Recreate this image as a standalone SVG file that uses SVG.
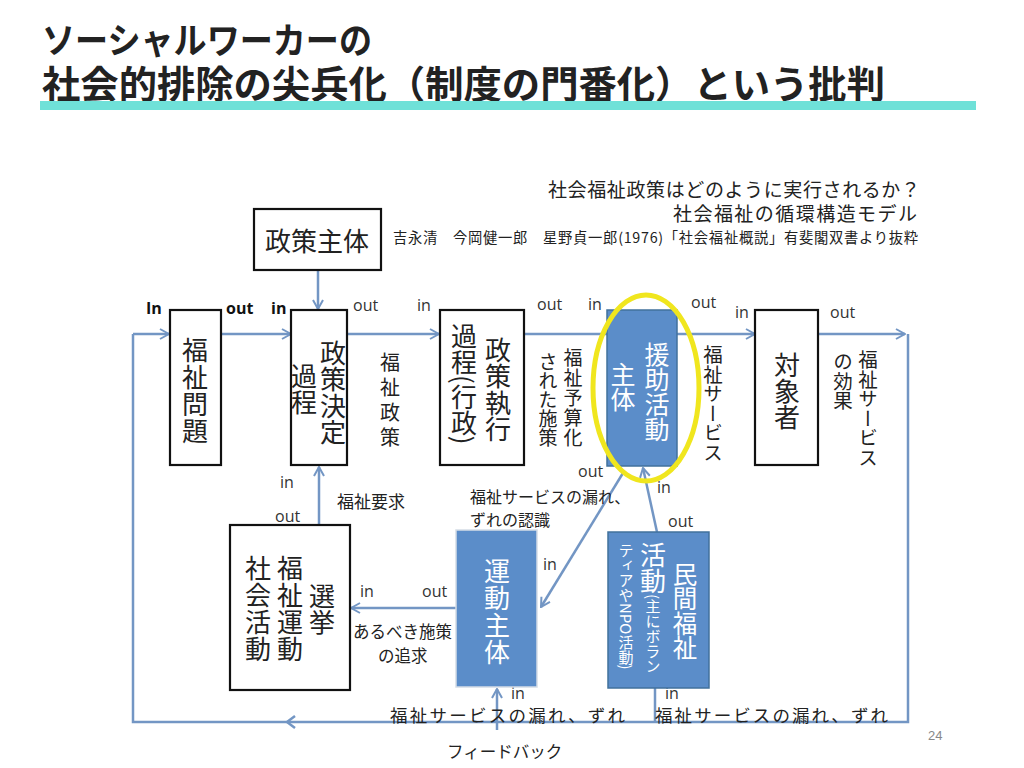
<svg xmlns="http://www.w3.org/2000/svg" width="1024" height="768" viewBox="0 0 1024 768">
<defs>
<style>
.jp{font-family:'Noto Sans CJK JP','Noto Sans CJK SC',sans-serif;fill:#222}
.v{writing-mode:vertical-rl}
.lbl{font-family:'Open Sans','Liberation Sans',sans-serif;font-size:16px;fill:#333}
.b{font-weight:bold;fill:#111}
.box{fill:#fff;stroke:#111;stroke-width:2.2}
.blue{fill:#5b8dc9;stroke:#41719c;stroke-width:1.5}
.wt{fill:#fff}
.ln{fill:none;stroke:#7396c4;stroke-width:2.5}
</style>
<marker id="ah" viewBox="0 0 12 12" refX="11" refY="6" markerWidth="12" markerHeight="12" markerUnits="userSpaceOnUse" orient="auto">
<path d="M2,1 L11,6 L2,11" fill="none" stroke="#7396c4" stroke-width="2"/>
</marker>
</defs>
<rect width="1024" height="768" fill="#fff"/>

<g id="title">
<text class="jp" x="42" y="54" font-size="36" font-weight="bold" fill="#000" textLength="330" lengthAdjust="spacingAndGlyphs">ソーシャルワーカーの</text>
<text class="jp" x="42" y="98" font-size="38" font-weight="bold" fill="#000" textLength="843" lengthAdjust="spacingAndGlyphs">社会的排除の尖兵化（制度の門番化）という批判</text>
<rect x="40" y="101" width="936" height="9" fill="#6fe1d8"/>
</g>

<g id="caption">
<text class="jp" x="920" y="197" font-size="19" text-anchor="end" textLength="372">社会福祉政策はどのように実行されるか？</text>
<text class="jp" x="917" y="221" font-size="19" text-anchor="end" textLength="244">社会福祉の循環構造モデル</text>
<text class="jp" x="393" y="243" font-size="14.3" textLength="525">吉永清　今岡健一郎　星野貞一郎(1976)「社会福祉概説」有斐閣双書より抜粋</text>
</g>

<g id="connectors">
<path class="ln" d="M133,334 H169" marker-end="url(#ah)"/>
<path class="ln" d="M221,334 H291" marker-end="url(#ah)"/>
<path class="ln" d="M347,334 H439" marker-end="url(#ah)"/>
<path class="ln" d="M524,334 H607"/>
<path class="ln" d="M677,334 H755" marker-end="url(#ah)"/>
<path class="ln" d="M818,334 H905" marker-end="url(#ah)"/>
<path class="ln" d="M908,334 V722 H133 V334"/>
<path class="ln" d="M295,716 L287,722 L295,728"/>
<path class="ln" d="M318,270 V309" marker-end="url(#ah)"/>
<path class="ln" d="M319,525 V467" marker-end="url(#ah)"/>
<path class="ln" d="M456,608 H351" marker-end="url(#ah)"/>
<path class="ln" d="M623,473 L541,607" marker-end="url(#ah)"/>
<path class="ln" d="M657,532 L643,468" marker-end="url(#ah)"/>
<path class="ln" d="M497,730 V689" marker-end="url(#ah)"/>
<path class="ln" d="M655,688 V722"/>
</g>

<g id="labels-inout">
<text class="lbl b" x="146" y="314">In</text>
<text class="lbl b" x="226" y="314">out</text>
<text class="lbl b" x="271" y="314">in</text>
<text class="lbl" x="353" y="311">out</text>
<text class="lbl" x="417" y="311">in</text>
<text class="lbl" x="537" y="310">out</text>
<text class="lbl" x="588" y="310">in</text>
<text class="lbl" x="691" y="308">out</text>
<text class="lbl" x="735" y="318">in</text>
<text class="lbl" x="830" y="318">out</text>
<text class="lbl" x="578" y="477">out</text>
<text class="lbl" x="657" y="493">in</text>
<text class="lbl" x="280" y="488">in</text>
<text class="lbl" x="275" y="522">out</text>
<text class="lbl" x="543" y="570">in</text>
<text class="lbl" x="668" y="527">out</text>
<text class="lbl" x="360" y="597">in</text>
<text class="lbl" x="422" y="597">out</text>
<text class="lbl" x="511" y="699" font-size="14">in</text>
<text class="lbl" x="665" y="699" font-size="14">in</text>
</g>

<g id="seisaku-shutai">
<rect class="box" x="254" y="209" width="127" height="61"/>
<text class="jp" x="317" y="251" font-size="26" text-anchor="middle">政策主体</text>
</g>

<g id="fukushi-mondai">
<rect class="box" x="170" y="310" width="51" height="155"/>
<text class="jp v" x="195" y="337" font-size="26" letter-spacing="1">福祉問題</text>
</g>

<g id="seisaku-kettei">
<rect class="box" x="291" y="310" width="56" height="155"/>
<text class="jp v" x="333" y="340" font-size="26" letter-spacing="0.5">政策決定</text>
<text class="jp v" x="304" y="363" font-size="26">過程</text>
</g>

<g id="fukushi-seisaku-label">
<text class="jp v" x="390" y="352" font-size="20" letter-spacing="5">福祉政策</text>
</g>

<g id="seisaku-shikko">
<rect class="box" x="440" y="310" width="84" height="155"/>
<text class="jp v" x="498" y="337" font-size="26" letter-spacing="0.5">政策執行</text>
<text class="jp v" x="464" y="323" font-size="26">過程(行政)</text>
</g>

<g id="yosan-label">
<text class="jp v" x="573" y="348" font-size="19" letter-spacing="1">福祉予算化</text>
<text class="jp v" x="548" y="352" font-size="19">された施策</text>
</g>

<g id="enjo-shutai">
<rect class="blue" x="607" y="310" width="70" height="156"/>
<text class="jp v wt" x="657" y="342" font-size="25">援助活動</text>
<text class="jp v wt" x="623" y="362" font-size="25">主体</text>
<ellipse cx="646" cy="388" rx="53" ry="93" fill="none" stroke="#f0e61e" stroke-width="5"/>
</g>

<g id="service-label">
<text class="jp v" x="713" y="345" font-size="19.5">福祉サービス</text>
</g>

<g id="taishosha">
<rect class="box" x="755" y="310" width="63" height="155"/>
<text class="jp v" x="787" y="352" font-size="26">対象者</text>
</g>

<g id="kouka-label">
<text class="jp v" x="868" y="350" font-size="19.5">福祉サービス</text>
<text class="jp v" x="843" y="352" font-size="19.5">の効果</text>
</g>

<g id="shakai-katsudo">
<rect class="box" x="230" y="525" width="120" height="165"/>
<text class="jp v" x="322" y="583" font-size="26">選挙</text>
<text class="jp v" x="290" y="555" font-size="26" letter-spacing="1">福祉運動</text>
<text class="jp v" x="258" y="555" font-size="26" letter-spacing="1">社会活動</text>
</g>

<g id="undo-shutai">
<rect x="456" y="530" width="81" height="157" fill="#5b8dc9" stroke="#d5dde6" stroke-width="1.5"/>
<text class="jp v wt" x="497" y="558" font-size="26" letter-spacing="1">運動主体</text>
</g>

<g id="minkan-fukushi">
<rect class="blue" x="608" y="532" width="101" height="156"/>
<text class="jp v wt" x="685" y="562" font-size="24.5">民間福祉</text>
<text class="jp v wt" x="653" y="542"><tspan font-size="26">活動</tspan><tspan font-size="15">(主にボラン</tspan></text>
<text class="jp v wt" x="626" y="543" font-size="15">ティアやNPO活動)</text>
</g>

<g id="texts">
<text class="jp" x="337" y="508" font-size="17">福祉要求</text>
<text class="jp" x="470" y="503" font-size="16">福祉サービスの漏れ、</text>
<text class="jp" x="470" y="526" font-size="16">ずれの認識</text>
<text class="jp" x="353" y="638" font-size="16.5">あるべき施策</text>
<text class="jp" x="378" y="662" font-size="16.5">の追求</text>
<text class="jp" x="390" y="722" font-size="17.5" textLength="235">福祉サービスの漏れ、ずれ</text>
<text class="jp" x="655" y="722" font-size="17.5" textLength="233">福祉サービスの漏れ、ずれ</text>
<text class="jp" x="447" y="758" font-size="16.5">フィードバック</text>
<text x="928" y="740" font-family="'Liberation Sans',sans-serif" font-size="13" fill="#888">24</text>
</g>
</svg>
